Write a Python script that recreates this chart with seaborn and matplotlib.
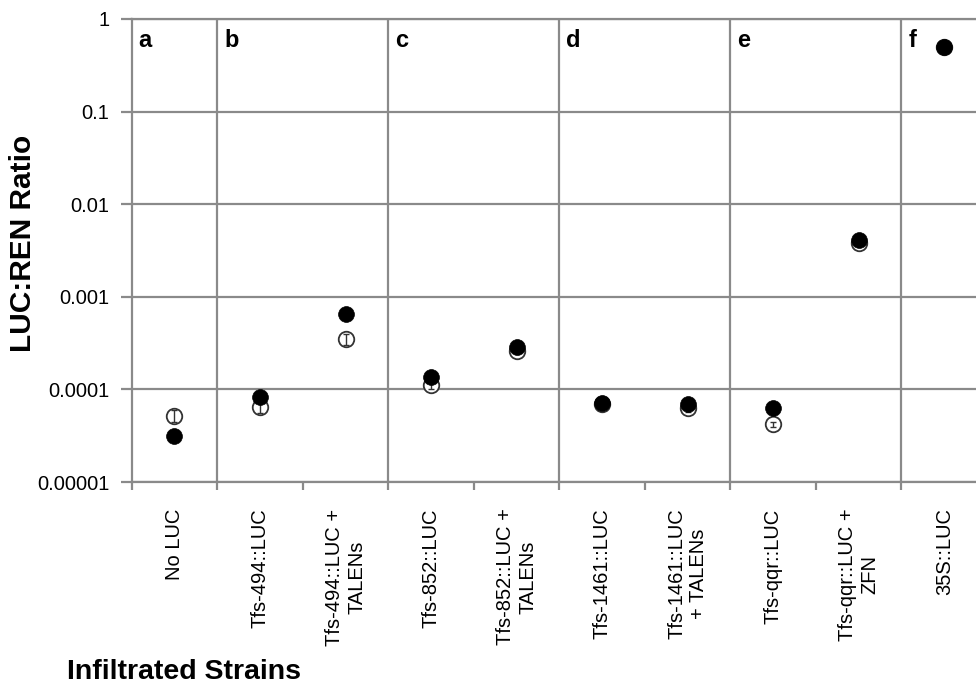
import numpy as np
import pandas as pd
import matplotlib
matplotlib.use("Agg")
import matplotlib.pyplot as plt
import seaborn as sns
from matplotlib.ticker import FixedLocator, NullFormatter

# ---------------- data ----------------
categories = ["No LUC", "Tfs-494::LUC", "Tfs-494::LUC +\nTALENs",
              "Tfs-852::LUC", "Tfs-852::LUC +\nTALENs",
              "Tfs-1461::LUC", "Tfs-1461::LUC\n+ TALENs",
              "Tfs-qqr::LUC", "Tfs-qqr::LUC +\nZFN", "35S::LUC"]
filled_vals = [3.1e-5, 8.3e-5, 6.6e-4, 1.36e-4, 2.85e-4, 7.1e-5, 6.9e-5, 6.25e-5, 4.1e-3, 0.50]
filled_err = [0.2e-5, 0.5e-5, 0.4e-4, 0.08e-4, 0.15e-4, 0.4e-5, 0.4e-5, 0.4e-5, 0.25e-3, 0.03]
open_vals = [5.2e-5, 6.5e-5, 3.5e-4, 1.12e-4, 2.6e-4, 7.0e-5, 6.25e-5, 4.2e-5, 3.8e-3, 0.50]
open_err = [0.75e-5, 1.0e-5, 0.5e-4, 0.12e-4, 0.2e-4, 0.5e-5, 0.5e-5, 0.3e-5, 0.3e-3, 0.03]
group_letters = ["a", "b", "c", "d", "e", "f"]
group_sizes = [1, 2, 2, 2, 2, 1]
y_ticks = [1e-5, 1e-4, 1e-3, 1e-2, 1e-1, 1]
y_ticklabels = ["0.00001", "0.0001", "0.001", "0.01", "0.1", "1"]
x_label = "Infiltrated Strains"
y_label = "LUC:REN Ratio"

# ---------------- style ----------------
sns.set_theme(style="white")
plt.rcParams["font.family"] = ["Liberation Sans", "DejaVu Sans"]
plt.rcParams["text.color"] = "black"
plt.rcParams["xtick.labelcolor"] = "black"
plt.rcParams["ytick.labelcolor"] = "black"

grid_c = "#8a8a8a"
fig = plt.figure(figsize=(9.76, 6.86), dpi=100)
ax = fig.add_axes([131.7 / 976, 1 - 482 / 686, (987 - 131.7) / 976, (482 - 19) / 686])

pos = np.arange(len(categories))
df_open = pd.DataFrame({"strain": categories, "ratio": open_vals})
df_filled = pd.DataFrame({"strain": categories, "ratio": filled_vals})

sns.scatterplot(data=df_open, x="strain", y="ratio", ax=ax, s=125,
                color="white", edgecolor="#333333", linewidth=1.3, zorder=4)
ax.errorbar(pos, open_vals, yerr=open_err, fmt="none", ecolor="#333333",
            elinewidth=1.0, capsize=2.5, capthick=1.0, zorder=4.5)
ax.errorbar(pos, filled_vals, yerr=filled_err, fmt="none", ecolor="black",
            elinewidth=1.0, capsize=2.5, zorder=5)
sns.scatterplot(data=df_filled, x="strain", y="ratio", ax=ax, s=130,
                color="black", edgecolor="black", linewidth=0.5, zorder=6)

ax.set_yscale("log")
ax.set_ylim(1e-5, 1)
ax.set_xlim(-0.5, len(categories) - 0.5)

# horizontal grid
ax.set_yticks(y_ticks)
ax.set_yticklabels(y_ticklabels)
ax.yaxis.set_minor_locator(FixedLocator([]))
for yv in y_ticks:
    ax.axhline(yv, color=grid_c, lw=1.6, zorder=1)

# group separators
bounds = np.cumsum(group_sizes)[:-1] - 0.5
for b in bounds:
    ax.axvline(b, color=grid_c, lw=1.6, zorder=1)

# group letters
starts = np.concatenate([[-0.5], bounds])
for s, letter in zip(starts, group_letters):
    ax.text(s + 0.08, 0.978, letter, transform=ax.get_xaxis_transform(),
            fontsize=17, fontweight="bold", ha="left", va="top", color="black")

# x ticks: labels at centers, tick marks at all category boundaries
ax.set_xticks(pos)
ax.set_xticklabels(categories, rotation=90, fontsize=14.5, ha="center",
                   va="top", multialignment="center")
ax.xaxis.set_minor_locator(FixedLocator(np.arange(len(categories) + 1) - 0.5))
ax.xaxis.set_minor_formatter(NullFormatter())
ax.tick_params(axis="x", which="major", length=0, pad=19, labelcolor="black")
ax.tick_params(axis="x", which="minor", length=6, width=1.6, color=grid_c,
               direction="out", bottom=True)
ax.tick_params(axis="y", which="major", length=8, width=1.6, color=grid_c,
               direction="out", labelsize=14.5, pad=8, left=True, labelcolor="black")

for side in ["left", "bottom", "top"]:
    ax.spines[side].set_color(grid_c)
    ax.spines[side].set_linewidth(1.6)
ax.spines["right"].set_visible(False)

ax.set_xlabel("")
ax.set_ylabel("")
fig.text(23 / 976, 1 - 243 / 686, y_label, rotation=90, fontsize=21.5,
         fontweight="bold", ha="center", va="center", color="black")
fig.text(67 / 976, 1 - 672 / 686, x_label, fontsize=20.5, fontweight="bold",
         ha="left", va="center", color="black")

fig.savefig("out.png", dpi=100)
